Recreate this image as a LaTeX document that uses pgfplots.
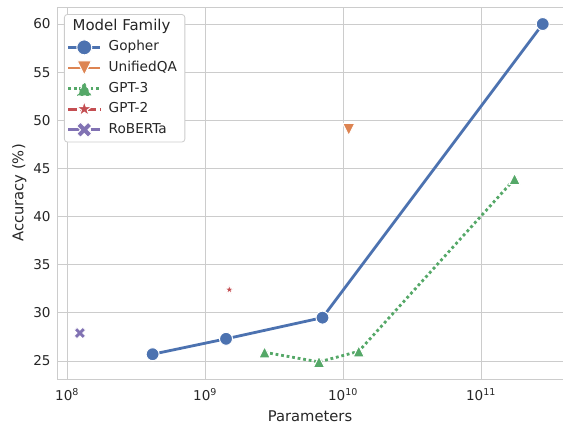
\documentclass[border=0pt]{standalone}
\usepackage{fontspec}
\setmainfont{DejaVu Sans}
\usepackage{pgfplots}
\pgfplotsset{compat=1.18}
\definecolor{cblue}{HTML}{4C72B0}
\definecolor{corange}{HTML}{DD8452}
\definecolor{cgreen}{HTML}{55A868}
\definecolor{cred}{HTML}{C44E52}
\definecolor{cpurple}{HTML}{8172B3}
\definecolor{txt}{HTML}{262626}
\definecolor{gridc}{HTML}{CCCCCC}
\pgfdeclareplotmark{fstar}{%
  \pgfpathmoveto{\pgfqpointpolar{90}{\pgfplotmarksize}}%
  \pgfpathlineto{\pgfqpointpolar{126}{0.382\pgfplotmarksize}}%
  \pgfpathlineto{\pgfqpointpolar{162}{\pgfplotmarksize}}%
  \pgfpathlineto{\pgfqpointpolar{198}{0.382\pgfplotmarksize}}%
  \pgfpathlineto{\pgfqpointpolar{234}{\pgfplotmarksize}}%
  \pgfpathlineto{\pgfqpointpolar{270}{0.382\pgfplotmarksize}}%
  \pgfpathlineto{\pgfqpointpolar{306}{\pgfplotmarksize}}%
  \pgfpathlineto{\pgfqpointpolar{342}{0.382\pgfplotmarksize}}%
  \pgfpathlineto{\pgfqpointpolar{18}{\pgfplotmarksize}}%
  \pgfpathlineto{\pgfqpointpolar{54}{0.382\pgfplotmarksize}}%
  \pgfpathclose
  \pgfusepathqfillstroke}
\pgfdeclareplotmark{fX}{%
  \pgftransformrotate{45}%
  \pgfpathmoveto{\pgfqpoint{0.333\pgfplotmarksize}{0.333\pgfplotmarksize}}%
  \pgfpathlineto{\pgfqpoint{0.333\pgfplotmarksize}{\pgfplotmarksize}}%
  \pgfpathlineto{\pgfqpoint{-0.333\pgfplotmarksize}{\pgfplotmarksize}}%
  \pgfpathlineto{\pgfqpoint{-0.333\pgfplotmarksize}{0.333\pgfplotmarksize}}%
  \pgfpathlineto{\pgfqpoint{-\pgfplotmarksize}{0.333\pgfplotmarksize}}%
  \pgfpathlineto{\pgfqpoint{-\pgfplotmarksize}{-0.333\pgfplotmarksize}}%
  \pgfpathlineto{\pgfqpoint{-0.333\pgfplotmarksize}{-0.333\pgfplotmarksize}}%
  \pgfpathlineto{\pgfqpoint{-0.333\pgfplotmarksize}{-\pgfplotmarksize}}%
  \pgfpathlineto{\pgfqpoint{0.333\pgfplotmarksize}{-\pgfplotmarksize}}%
  \pgfpathlineto{\pgfqpoint{0.333\pgfplotmarksize}{-0.333\pgfplotmarksize}}%
  \pgfpathlineto{\pgfqpoint{\pgfplotmarksize}{-0.333\pgfplotmarksize}}%
  \pgfpathlineto{\pgfqpoint{\pgfplotmarksize}{0.333\pgfplotmarksize}}%
  \pgfpathclose
  \pgfusepathqfillstroke}
\pgfdeclareplotmark{tup}{%
  \pgfpathmoveto{\pgfqpoint{0pt}{\pgfplotmarksize}}%
  \pgfpathlineto{\pgfqpoint{-\pgfplotmarksize}{-\pgfplotmarksize}}%
  \pgfpathlineto{\pgfqpoint{\pgfplotmarksize}{-\pgfplotmarksize}}%
  \pgfpathclose
  \pgfusepathqfillstroke}
\pgfdeclareplotmark{tdown}{%
  \pgfpathmoveto{\pgfqpoint{0pt}{-\pgfplotmarksize}}%
  \pgfpathlineto{\pgfqpoint{-\pgfplotmarksize}{\pgfplotmarksize}}%
  \pgfpathlineto{\pgfqpoint{\pgfplotmarksize}{\pgfplotmarksize}}%
  \pgfpathclose
  \pgfusepathqfillstroke}
\begin{document}
\begin{tikzpicture}
\begin{axis}[
  name=ax,
  scale only axis, width=506bp, height=372bp,
  xmode=log,
  xmin=8.46e7, xmax=3.93e11, ymin=23.125, ymax=61.77,
  xtick={1e8,1e9,1e10,1e11},
  xticklabels={10\textsuperscript{8},10\textsuperscript{9},10\textsuperscript{10},10\textsuperscript{11}},
  minor xtick={},
  ytick={25,30,35,40,45,50,55,60},
  /pgf/number format/assume math mode=true,
  major tick length=0pt, minor tick length=0pt,
  grid=major, grid style={gridc, line width=0.9bp},
  axis line style={gridc, line width=1bp},
  tick label style={font=\fontsize{13.6}{16}\selectfont, text=txt},
  xticklabel style={yshift=-6bp},
  yticklabel style={xshift=-3bp},
  label style={font=\fontsize{14.8}{17}\selectfont, text=txt},
  xlabel={Parameters}, ylabel={Accuracy (\%)},
  xlabel style={yshift=-3bp},
  legend cell align=left,
  legend style={at={(rel axis cs:0.0138,0.981)}, anchor=north west,
    draw=gridc, rounded corners=3bp, fill=white, line width=0.8bp,
    font=\fontsize{13.7}{16}\selectfont, text=txt,
    inner xsep=2.5bp, inner ysep=2bp, row sep=0bp,
    /tikz/every odd column/.append style={column sep=5.5bp},
    nodes={inner xsep=1.5bp, inner ysep=3.8bp, text height=10bp, text depth=3bp}},
]
\addlegendimage{empty legend}
\addlegendentry{\hspace*{-36bp}\fontsize{15}{17}\selectfont Model Family}

\addplot[cblue, line width=2.8bp, mark=*, mark size=6.5bp,
  mark options={solid, fill=cblue, draw=white, line width=1bp},
  legend image code/.code={\draw[cblue, line width=2.8bp] (0bp,0bp)--(32bp,0bp);
    \draw plot[mark=*, mark size=7.5bp, mark options={fill=cblue, draw=white, line width=1bp}] coordinates {(16bp,0bp)};}]
  coordinates {(4.17e8,25.7) (1.42e9,27.3) (7.1e9,29.5) (2.8e11,60.0)};
\addlegendentry{Gopher}

\addplot[only marks, mark=tdown, mark size=6bp,
  mark options={fill=corange, draw=white, line width=1bp},
  legend image code/.code={\draw[corange, line width=2.8bp] (0bp,0bp)--(32bp,0bp);
    \draw plot[mark=tdown, mark size=7.2bp, mark options={fill=corange, draw=white, line width=1bp}] coordinates {(16bp,0bp)};}]
  coordinates {(1.1e10,49.05)};
\addlegendentry{UnifiedQA\hspace*{4bp}}

\addplot[cgreen, line width=2.8bp, dash pattern=on 2.8bp off 2.8bp, mark=tup, mark size=5.6bp,
  mark options={solid, fill=cgreen, draw=white, line width=1bp},
  legend image code/.code={\draw[cgreen, line width=2.8bp, dash pattern=on 2.8bp off 2.8bp] (0bp,0bp)--(32bp,0bp);
    \draw plot[mark=tup, mark size=7.2bp, mark options={fill=cgreen, draw=white, line width=1bp}] coordinates {(16bp,0bp)};}]
  coordinates {(2.7e9,25.9) (6.7e9,24.9) (1.3e10,26.0) (1.75e11,43.9)};
\addlegendentry{GPT-3}

\addplot[only marks, mark=fstar, mark size=4.5bp,
  mark options={fill=cred, draw=white, line width=0.6bp},
  legend image code/.code={\draw[cred, line width=2.8bp, dash pattern=on 8.4bp off 3.5bp on 4.2bp off 3.5bp] (0bp,0bp)--(32bp,0bp);
    \draw plot[mark=fstar, mark size=8bp, mark options={fill=cred, draw=white, line width=1bp}] coordinates {(16bp,0bp)};}]
  coordinates {(1.5e9,32.4)};
\addlegendentry{GPT-2}

\addplot[only marks, mark=fX, mark size=6bp,
  mark options={fill=cpurple, draw=white, line width=0.8bp},
  legend image code/.code={\draw[cpurple, line width=2.8bp, dash pattern=on 14bp off 2.8bp on 2.8bp off 2.8bp] (0bp,0bp)--(32bp,0bp);
    \draw plot[mark=fX, mark size=8bp, mark options={fill=cpurple, draw=white, line width=1bp}] coordinates {(16bp,0bp)};}]
  coordinates {(1.24e8,27.9)};
\addlegendentry{RoBERTa}
\end{axis}
\pgfresetboundingbox
\path ([shift={(-57bp,-46bp)}]ax.south west) rectangle ([shift={(0bp,7bp)}]ax.north east);
\end{tikzpicture}
\end{document}
